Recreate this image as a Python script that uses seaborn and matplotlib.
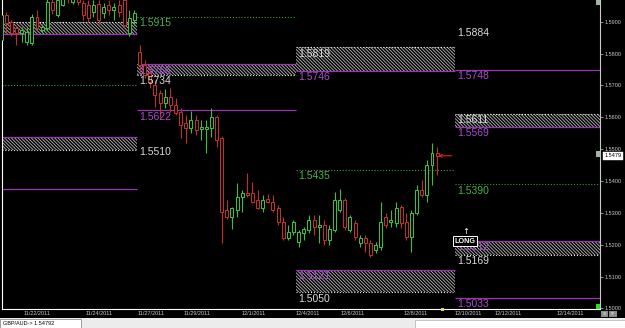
import numpy as np
import pandas as pd
import matplotlib
matplotlib.use("Agg")
import matplotlib.pyplot as plt
import seaborn as sns
from matplotlib.patches import Rectangle

# ---------------- data ----------------
slots = list(range(4, 90))
opens = [1.5842, 1.5921, 1.5899, 1.5880, 1.5864, 1.5836, 1.5833, 1.5915, 1.5874, 1.5880,
         1.5962, 1.5921, 1.5952, 1.5993, 1.5962, 1.5984, 1.5959, 1.5952, 1.5930, 1.5955,
         1.5927, 1.5952, 1.5937, 1.5952, 1.5968, 1.5864, 1.5905, 1.5805, 1.5764, 1.5742,
         1.5701, 1.5676, 1.5645, 1.5663, 1.5638, 1.5616, 1.5582, 1.5566, 1.5591, 1.5563,
         1.5563, 1.5566, 1.5601, 1.5535, 1.5309, 1.5287, 1.5309, 1.5349, 1.5362, 1.5362,
         1.5340, 1.5315, 1.5343, 1.5334, 1.5315, 1.5271, 1.5221, 1.5240, 1.5208, 1.5236,
         1.5246, 1.5277, 1.5255, 1.5262, 1.5214, 1.5246, 1.5309, 1.5340, 1.5246, 1.5268,
         1.5205, 1.5221, 1.5205, 1.5183, 1.5192, 1.5287, 1.5271, 1.5268, 1.5318, 1.5271,
         1.5224, 1.5299, 1.5371, 1.5356, 1.5450, 1.5488]
closes = [1.5921, 1.5896, 1.5864, 1.5864, 1.5874, 1.5868, 1.5915, 1.5880, 1.5883, 1.5962,
          1.5937, 1.5968, 1.5999, 1.5974, 1.5987, 1.5962, 1.5921, 1.5911, 1.5952, 1.5905,
          1.5946, 1.5937, 1.5946, 1.5930, 1.5890, 1.5911, 1.5927, 1.5764, 1.5733, 1.5711,
          1.5670, 1.5645, 1.5663, 1.5638, 1.5613, 1.5576, 1.5566, 1.5591, 1.5560, 1.5569,
          1.5569, 1.5601, 1.5528, 1.5302, 1.5287, 1.5315, 1.5349, 1.5362, 1.5356, 1.5334,
          1.5315, 1.5340, 1.5334, 1.5309, 1.5271, 1.5221, 1.5240, 1.5271, 1.5240, 1.5249,
          1.5277, 1.5255, 1.5262, 1.5214, 1.5249, 1.5340, 1.5340, 1.5255, 1.5287, 1.5224,
          1.5221, 1.5205, 1.5167, 1.5199, 1.5271, 1.5262, 1.5277, 1.5315, 1.5268, 1.5224,
          1.5299, 1.5371, 1.5356, 1.5450, 1.5488, 1.5479]
highs = [1.5930, 1.5930, 1.5905, 1.5890, 1.5883, 1.5880, 1.5924, 1.5937, 1.5893, 1.5977,
         1.5984, 1.5993, 1.6015, 1.6015, 1.6006, 1.5999, 1.5968, 1.5968, 1.5968, 1.5968,
         1.5959, 1.5968, 1.5959, 1.5968, 1.5977, 1.5937, 1.5937, 1.5827, 1.5780, 1.5754,
         1.5717, 1.5685, 1.5689, 1.5692, 1.5660, 1.5629, 1.5607, 1.5619, 1.5607, 1.5591,
         1.5591, 1.5629, 1.5607, 1.5541, 1.5340, 1.5318, 1.5393, 1.5371, 1.5425, 1.5397,
         1.5371, 1.5356, 1.5359, 1.5356, 1.5324, 1.5287, 1.5262, 1.5277, 1.5246, 1.5255,
         1.5293, 1.5293, 1.5293, 1.5277, 1.5262, 1.5365, 1.5375, 1.5346, 1.5293, 1.5277,
         1.5230, 1.5230, 1.5214, 1.5208, 1.5334, 1.5299, 1.5309, 1.5334, 1.5324, 1.5299,
         1.5309, 1.5387, 1.5403, 1.5466, 1.5519, 1.5506]
lows = [1.5827, 1.5864, 1.5855, 1.5827, 1.5836, 1.5827, 1.5827, 1.5874, 1.5864, 1.5874,
        1.5924, 1.5915, 1.5949, 1.5959, 1.5955, 1.5952, 1.5905, 1.5899, 1.5915, 1.5893,
        1.5911, 1.5921, 1.5905, 1.5915, 1.5880, 1.5855, 1.5890, 1.5742, 1.5723, 1.5692,
        1.5632, 1.5601, 1.5629, 1.5616, 1.5607, 1.5535, 1.5519, 1.5550, 1.5544, 1.5528,
        1.5488, 1.5538, 1.5506, 1.5205, 1.5280, 1.5249, 1.5287, 1.5302, 1.5349, 1.5331,
        1.5312, 1.5302, 1.5331, 1.5302, 1.5262, 1.5214, 1.5214, 1.5230, 1.5192, 1.5214,
        1.5236, 1.5230, 1.5205, 1.5199, 1.5199, 1.5240, 1.5302, 1.5246, 1.5240, 1.5214,
        1.5192, 1.5177, 1.5161, 1.5174, 1.5183, 1.5252, 1.5255, 1.5255, 1.5252, 1.5214,
        1.5177, 1.5293, 1.5349, 1.5334, 1.5387, 1.5419]

# weekly levels (section start / end in candle slots)
level_start = [0, 0, 0, 0, 0, 0, 31, 31, 31, 31, 31, 62, 62, 62, 62, 62,
               93, 93, 93, 93, 93, 93, 93, 93]
level_end = [31] * 6 + [62] * 5 + [93] * 5 + [124] * 8
level_price = [1.5899, 1.5861, 1.5701, 1.5538, 1.5497, 1.5375,
               1.5915, 1.5766, 1.5734, 1.5622, 1.5510,
               1.5819, 1.5746, 1.5435, 1.5121, 1.5050,
               1.5884, 1.5748, 1.5611, 1.5569, 1.5390, 1.5212, 1.5169, 1.5033]
level_kind = ['w', 'm', 'g', 'm', 'w', 'm',
              'g', 'm', 'w', 'm', 'n',
              'w', 'm', 'g', 'm', 'w',
              'n', 'm', 'w', 'm', 'g', 'm', 'w', 'm']
level_label = [''] * 6 + ['1.5915', '1.5766', '1.5734', '1.5622', '1.5510',
                          '1.5819', '1.5746', '1.5435', '1.5121', '1.5050',
                          '1.5884', '1.5748', '1.5611', '1.5569', '1.5390',
                          '1.5212', '1.5169', '1.5033']

zone_start = [0, 0, 31, 62, 62, 93, 93]
zone_end = [31, 31, 62, 93, 93, 124, 124]
zone_low = [1.5861, 1.5497, 1.5734, 1.5746, 1.5050, 1.5569, 1.5169]
zone_high = [1.5899, 1.5538, 1.5766, 1.5819, 1.5121, 1.5611, 1.5212]

signal_slot = [95.0]
signal_price = [1.5211]
signal_text = ['LONG']

current_price = 1.5479
status_text = 'GBP/AUD-> 1.54792'

ytick_vals = [1.50, 1.51, 1.52, 1.53, 1.54, 1.55, 1.56, 1.57, 1.58, 1.59]
ytick_labels = ['1.5000', '1.5100', '1.5200', '1.5300', '1.5400',
                '1.5500', '1.5600', '1.5700', '1.5800', '1.5900']
date_pos = [11.5, 23.6, 33.7, 42.7, 53.8, 64.3, 73.1, 85.3, 95.5, 103.3, 115.4]
date_labels = ['11/22/2011', '11/24/2011', '11/27/2011', '11/29/2011', '12/1/2011',
               '12/4/2011', '12/6/2011', '12/8/2011', '12/10/2011', '12/12/2011',
               '12/14/2011']

# ---------------- style ----------------
sns.set_theme(style="dark", rc={"axes.facecolor": "black", "figure.facecolor": "black",
                                "axes.grid": False})
plt.rcParams["font.family"] = ["Liberation Sans", "DejaVu Sans"]
plt.rcParams["hatch.linewidth"] = 0.6

GREEN = "#3cc03c"
RED = "#c0302a"
MAG = "#9b35b5"
MAG_TXT = "#a84ccc"
GDOT = "#3a9a3a"
GTXT = "#4caf4c"
WDOT = "#e6e6e6"
WTXT = "#dadada"
HATCH = "#b8b8b8"

W, H = 625, 328
fig = plt.figure(figsize=(W / 100, H / 100), dpi=100, facecolor="black")
ax = fig.add_axes([2 / W, 19 / H, 598 / W, 309 / H])
ax.set_facecolor("black")
ax.set_xlim(24 / 5.13, 622 / 5.13)
ax.set_ylim(1.4998, 1.5968)

# zones
for s, e, lo, hi in zip(zone_start, zone_end, zone_low, zone_high):
    ax.fill_between([s, e], lo, hi, facecolor="none", edgecolor=HATCH, linewidth=0,
                    hatch="\\\\\\\\\\\\\\\\\\\\", zorder=1)

# level lines and labels
for s, e, p, k, lab in zip(level_start, level_end, level_price, level_kind, level_label):
    if k == 'm':
        ax.hlines(p, s, e, color=MAG, lw=0.9, zorder=2)
        tc = MAG_TXT
    elif k == 'g':
        ax.hlines(p, s, e, color=GDOT, lw=0.8, linestyles=(0, (1, 1.6)), zorder=2)
        tc = GTXT
    elif k == 'w':
        ax.hlines(p, s, e, color=WDOT, lw=0.8, linestyles=(0, (1, 1.6)), zorder=2)
        tc = WTXT
    else:
        tc = WTXT
    if lab:
        ax.annotate(lab, (s, p), xytext=(1.5, -1.0), textcoords="offset points",
                    ha="left", va="top", fontsize=7.5, color=tc, zorder=6)

# candles
df = pd.DataFrame({"slot": slots, "open": opens, "high": highs, "low": lows, "close": closes})
df["x"] = df["slot"] + 0.5
up = df["close"] >= df["open"]
cols = np.where(up, GREEN, RED)
ax.vlines(df["x"], df["low"], df["high"], colors=cols, lw=0.8, zorder=3)
body_lo = np.minimum(df["open"], df["close"])
body_h = np.maximum((df["close"] - df["open"]).abs(), 0.00012)
ax.bar(df["x"], body_h, bottom=body_lo, width=0.58, facecolor="black",
       edgecolor=cols, linewidth=0.75, zorder=4)

# current price arrow
last_x = df["x"].iloc[-1]
ax.annotate("", xy=(last_x + 0.2, current_price), xytext=(last_x + 2.9, current_price),
            arrowprops=dict(arrowstyle="->", color="#e02020", lw=0.8, shrinkA=0, shrinkB=0,
                            mutation_scale=5), zorder=7)

# signal
for sx, sp, st in zip(signal_slot, signal_price, signal_text):
    ax.text(sx, sp, st, ha="center", va="center", fontsize=5.2, fontweight="bold",
            color="white", zorder=8,
            bbox=dict(boxstyle="square,pad=0.2", fc="black", ec="white", lw=0.7))
    ax.annotate("↑", (sx, sp), xytext=(0, 7), textcoords="offset points", ha="center",
                va="center", fontsize=6, color="white", family="DejaVu Sans", zorder=8)

# axes / spines
for side in ["top"]:
    ax.spines[side].set_visible(False)
ax.spines["left"].set_color("white")
ax.spines["left"].set_linewidth(0.8)
ax.spines["bottom"].set_color("white")
ax.spines["bottom"].set_linewidth(0.8)
ax.spines["right"].set_color("#c8c8c8")
ax.spines["right"].set_linewidth(0.8)

ax.set_yticks(ytick_vals)
ax.set_yticklabels(ytick_labels)
ax.yaxis.tick_right()
ax.tick_params(axis="y", which="both", right=True, left=False, labelright=True,
               labelleft=False, colors="#c8c8c8", labelsize=4, length=2, width=0.5,
               pad=1.5, direction="out")
ax.set_xticks(date_pos)
ax.set_xticklabels(date_labels)
ax.tick_params(axis="x", bottom=True, colors="#c8c8c8", labelsize=4, length=0, pad=1.5)

# current price box on the axis
ax.annotate(f"{current_price:.4f}", xy=(1.0, current_price),
            xycoords=("axes fraction", "data"), xytext=(3, 0), textcoords="offset points",
            ha="left", va="center", fontsize=4, color="black", annotation_clip=False,
            bbox=dict(boxstyle="square,pad=0.3", fc="white", ec="white", lw=0.3))


def fx(px):
    return px / W


def fy(py):
    return 1 - py / H


# small chart icons
fig.add_artist(Rectangle((fx(595.5), fy(157)), 4.5 / W, 6 / H, fc="#9fb59f", ec="none"))
fig.add_artist(Rectangle((fx(595.5), fy(5)), 4.5 / W, 5 / H, fc="#9fb59f", ec="none"))
fig.add_artist(Rectangle((fx(596), fy(309)), 4 / W, 5 / H, fc="#2edc2e", ec="none"))
fig.add_artist(Rectangle((fx(441), fy(310.5)), 3 / W, 3 / H, fc="#e0d860", ec="none"))
fig.add_artist(Rectangle((fx(601), fy(317)), 7 / W, 6 / H, fc="#8c8c8c", ec="none"))
fig.add_artist(Rectangle((fx(609), fy(317)), 8 / W, 6 / H, fc="#8c8c8c", ec="none"))
fig.text(fx(604.5), fy(314), "30", fontsize=2.5, color="white", ha="center", va="center")
fig.text(fx(613), fy(314), "TF", fontsize=2.5, color="white", ha="center", va="center")

# status bar
fig.add_artist(Rectangle((0, 0), 1, 10 / H, fc="#ececec", ec="none"))
fig.add_artist(Rectangle((0, fy(327.5)), 81 / W, 8.5 / H, fc="white", ec="#7a7a7a", lw=0.5))
fig.add_artist(Rectangle((fx(415), 0), 210 / W, 8 / H, fc="white", ec="#b0b0b0", lw=0.5))
fig.text(fx(3), fy(323.2), status_text, fontsize=4, color="black", ha="left", va="center")

fig.savefig("out.png", dpi=100, facecolor="black")
